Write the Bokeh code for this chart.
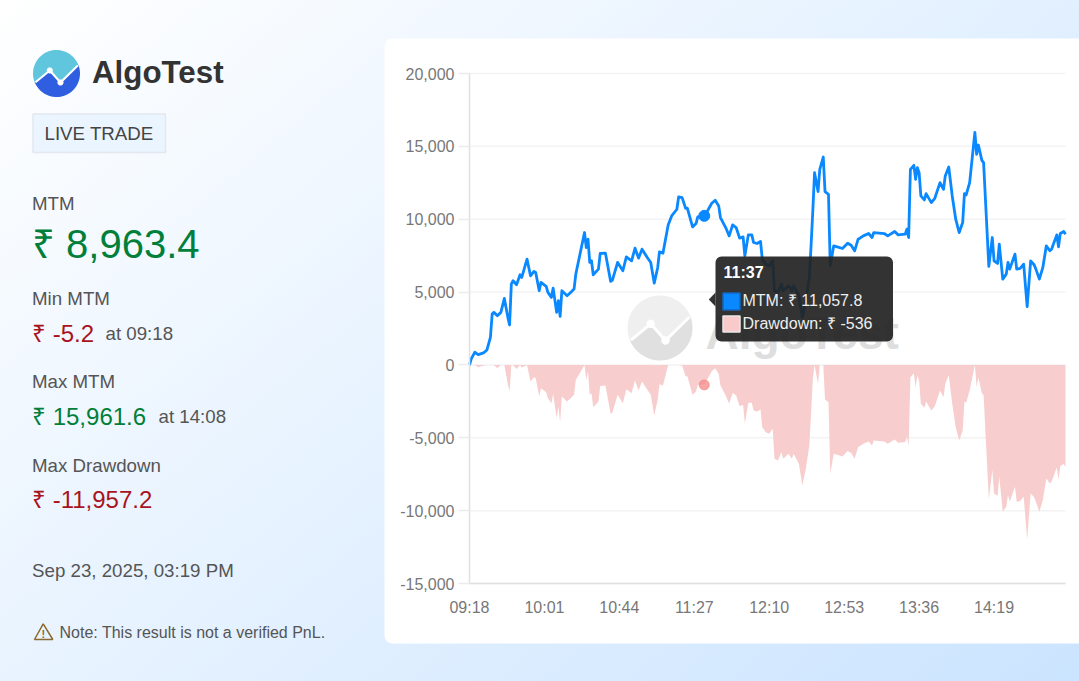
import numpy as np
from bokeh.embed import file_html
from bokeh.models import BoxAnnotation, FixedTicker, Label, LinearAxis, NumeralTickFormatter, PolyAnnotation
from bokeh.plotting import figure
from bokeh.resources import INLINE

# minutes since 09:18
minutes = [0, 1, 3, 5, 8, 10, 12, 13, 14, 16, 18, 20, 22, 23, 24, 25, 27, 29, 30, 33,
           35, 37, 38, 40, 41, 44, 45, 47, 48, 50, 51, 52, 53, 56, 58, 60, 61, 66, 67, 68,
           69, 70, 71, 74, 75, 78, 81, 82, 85, 88, 90, 93, 95, 97, 99, 102, 104, 106, 108, 109,
           111, 114, 116, 119, 120, 122, 124, 125, 128, 130, 131, 135, 139, 141, 143, 144, 147, 149, 151, 153,
           155, 157, 158, 160, 162, 163, 165, 167, 168, 170, 172, 174, 175, 177, 179, 180, 183, 185, 186, 189,
           191, 193, 195, 196, 197, 198, 200, 201, 203, 204, 206, 207, 209, 211, 214, 217, 219, 221, 223, 224,
           226, 229, 231, 232, 238, 240, 244, 246, 250, 251, 252, 253, 255, 256, 257, 258, 259, 261, 262, 265,
           267, 270, 272, 273, 275, 277, 279, 281, 283, 284, 285, 287, 290, 291, 292, 294, 295, 298, 300, 301,
           303, 304, 306, 308, 309, 310, 313, 314, 316, 318, 320, 322, 324, 325, 327, 329, 331, 333, 334, 337,
           338, 339, 341, 342]
mtm = [-5, 411, 868, 708, 822, 1027, 1895, 3493, 3607, 3379, 3607, 4566, 3265, 2740, 5548, 5776, 5502, 6187, 6004, 7260,
       6118, 6415, 6347, 5091, 5662, 5388, 4977, 4634, 5274, 3607, 4406, 3333, 5091, 4749, 4977, 5205, 6233, 9086, 8059, 8630,
       7032, 7146, 6187, 6575, 7648, 7671, 5730, 5822, 7032, 6461, 7420, 7146, 8013, 7328, 7945, 7374, 7032, 5616, 6689, 7762,
       7671, 9611, 10228, 10684, 11529, 11483, 10753, 10753, 9474, 9703, 10159, 10228, 11095, 11300, 10913, 10114, 9429, 8858, 9611, 9429,
       8698, 8790, 7488, 8926, 8926, 8401, 8333, 8470, 7260, 6917, 6803, 7146, 5091, 4977, 5548, 5091, 5434, 5091, 5434, 4749,
       3265, 4406, 6004, 8173, 10570, 13196, 11894, 13424, 14269, 11894, 11712, 6803, 8173, 8105, 7991, 8356, 8219, 7831, 8630, 8698,
       8858, 9018, 8744, 9086, 9018, 8858, 9155, 8926, 8972, 9315, 8744, 13424, 13698, 12739, 13538, 13196, 11598, 11324, 11758, 11141,
       11438, 12511, 12054, 12967, 13584, 11598, 10000, 9086, 9771, 11758, 11666, 12511, 15962, 14451, 15091, 14041, 13881, 6758, 8744, 7146,
       6963, 8287, 5890, 6233, 7032, 6575, 7602, 6575, 6621, 6918, 4004, 7146, 6872, 6575, 5890, 6689, 8173, 7831, 7945, 8926,
       8105, 9018, 9155, 8963]
drawdown = [0, 0, 0, -160, -46, 0, 0, 0, 0, -228, 0, 0, -1301, -1826, 0, 0, -274, 0, -183, 0,
            -1142, -845, -913, -2169, -1598, -1872, -2283, -2626, -1986, -3653, -2854, -3927, -2169, -2511, -2283, -2055, -1027, 0, -1027, -456,
            -2054, -1940, -2899, -2511, -1438, -1415, -3356, -3264, -2054, -2625, -1666, -1940, -1073, -1758, -1141, -1712, -2054, -3470, -2397, -1324,
            -1415, 0, 0, 0, 0, -46, -776, -776, -2055, -1826, -1370, -1301, -434, -229, -616, -1415, -2100, -2671, -1918, -2100,
            -2831, -2739, -4041, -2603, -2603, -3128, -3196, -3059, -4269, -4612, -4726, -4383, -6438, -6552, -5981, -6438, -6095, -6438, -6095, -6780,
            -8264, -7123, -5525, -3356, -959, 0, -1302, 0, 0, -2375, -2557, -7466, -6096, -6164, -6278, -5913, -6050, -6438, -5639, -5571,
            -5411, -5251, -5525, -5183, -5251, -5411, -5114, -5343, -5297, -4954, -5525, -845, -571, -1530, -731, -1073, -2671, -2945, -2511, -3128,
            -2831, -1758, -2215, -1302, -685, -2671, -4269, -5183, -4498, -2511, -2603, -1758, 0, -1510, -870, -1920, -2080, -9203, -7217, -8815,
            -8998, -7674, -10071, -9728, -8929, -9386, -8359, -9386, -9340, -9043, -11957, -8815, -9089, -9386, -10071, -9272, -7788, -8130, -8016, -7035,
            -7856, -6943, -6806, -6998]

tick_minutes = [0, 43, 86, 129, 172, 215, 258, 301]
tick_labels = ["09:18", "10:01", "10:44", "11:27", "12:10", "12:53", "13:36", "14:19"]
y_ticks = [-15000, -10000, -5000, 0, 5000, 10000, 15000, 20000]

hover_minute = [134.7]
hover_mtm = [10230]
hover_drawdown = [-1370]

FONT = "Liberation Sans"
W, H = 1079, 681
LEFT, RIGHT, TOP, BOTTOM = 469, 1065, 73, 583
X0, X1 = 0, 342
Y0, Y1 = -15000, 20000

# the frame fills the whole page so the side panel can live in it
xk = (X1 - X0) / (RIGHT - LEFT)
yk = (Y1 - Y0) / (BOTTOM - TOP)
p = figure(width=W, height=H, output_backend="svg", toolbar_location=None, tools="",
           x_range=(X0 - LEFT * xk, X1 + (W - RIGHT) * xk),
           y_range=(Y0 - (H - BOTTOM) * yk, Y1 + TOP * yk),
           x_axis_location=None, y_axis_location=None, min_border=0,
           border_fill_alpha=0, background_fill_alpha=0, outline_line_color=None,
           styles={"position": "fixed", "left": "0", "top": "0",
                   "background": "linear-gradient(140deg, #ffffff 0%, #cbe4ff 100%)"})
p.grid.visible = False


def sy(y):
    return H - y


def text(x, y, s, size, color, bold=False, align="left", level="overlay"):
    p.add_layout(Label(x=x, y=sy(y), x_units="screen", y_units="screen", text=s,
                       text_font=FONT, text_font_size=f"{size}px", text_color=color,
                       text_font_style="bold" if bold else "normal", text_align=align,
                       text_baseline="middle", level=level))


def box(x0, y0, x1, y1, color, line=None, radius=0, alpha=1.0, level="annotation"):
    p.add_layout(BoxAnnotation(left=x0, right=x1, top=sy(y0), bottom=sy(y1),
                               left_units="screen", right_units="screen", top_units="screen", bottom_units="screen",
                               fill_color=color, fill_alpha=alpha, line_color=line, line_alpha=1,
                               line_width=1.5 if line else 0,
                               border_radius=radius, level=level, editable=False))


def poly(xs, ys, color, line=None, width=0, alpha=1.0, level="annotation"):
    p.add_layout(PolyAnnotation(xs=list(xs), ys=[sy(y) for y in ys],
                                xs_units="screen", ys_units="screen", fill_color=color, fill_alpha=alpha,
                                line_color=line, line_alpha=1, line_width=width, level=level))


def logo(cx, cy, r, top_color, bottom_color, level):
    # zigzag across the disc, ends sit on the rim
    zig = [(-0.894, 0.37), (-0.285, -0.128), (0.17, 0.383), (0.906, -0.34)]
    a0 = np.arctan2(zig[0][1], zig[0][0])
    a1 = np.arctan2(zig[-1][1], zig[-1][0])
    upper = np.linspace(a1, a0 - 2 * np.pi, 40)
    lower = np.linspace(a1, a0, 40)
    zx = [cx + r * z[0] for z in zig]
    zy = [cy + r * z[1] for z in zig]
    poly(zx + list(cx + r * np.cos(upper)), zy + list(cy + r * np.sin(upper)), top_color, level=level)
    poly(zx + list(cx + r * np.cos(lower)), zy + list(cy + r * np.sin(lower)), bottom_color, level=level)
    w = r * 0.045
    for i in range(3):
        dx, dy = zx[i + 1] - zx[i], zy[i + 1] - zy[i]
        n = np.hypot(dx, dy)
        ox, oy = -dy / n * w, dx / n * w
        poly([zx[i] + ox, zx[i + 1] + ox, zx[i + 1] - ox, zx[i] - ox],
             [zy[i] + oy, zy[i + 1] + oy, zy[i + 1] - oy, zy[i] - oy], "#ffffff", level=level)
    t = np.linspace(0, 2 * np.pi, 24)
    for i in (1, 2):
        poly(zx[i] + r * 0.13 * np.cos(t), zy[i] + r * 0.13 * np.sin(t), "#ffffff", level=level)


# white card behind the chart
box(384, 38, W, 643, "#ffffff", radius=(8, 0, 0, 8), level="image")

# watermark
logo(659.5, 327.5, 32.5, "#efefef", "#e0e0e0", "image")
text(705, 332, "AlgoTest", 46, "#dedede", bold=True, level="image")

# a Grid would run across the whole frame, so keep the rules inside the plot area
p.segment([X0] * len(y_ticks), y_ticks, [X1] * len(y_ticks), y_ticks,
          line_color="#f3f3f3", line_width=1.5, level="underlay")

p.varea(minutes, 0, drawdown, fill_color="#f8caca", fill_alpha=0.95)
p.line(minutes, mtm, line_color="#0a88ff", line_width=2.8, line_join="round")
p.scatter(hover_minute, hover_mtm, size=11, color="#0a88ff")
p.scatter(hover_minute, hover_drawdown, size=10, color="#f58f8f", alpha=0.8)

xaxis = LinearAxis(fixed_location=Y0, bounds=(X0, X1), ticker=FixedTicker(ticks=tick_minutes),
                   major_label_overrides=dict(zip(tick_minutes, tick_labels)), major_label_standoff=9)
yaxis = LinearAxis(fixed_location=X0, bounds=(Y0, Y1), ticker=FixedTicker(ticks=y_ticks),
                   formatter=NumeralTickFormatter(format="0,0"), major_label_standoff=4)
for ax in (xaxis, yaxis):
    ax.major_label_text_font = FONT
    ax.major_label_text_font_size = "16px"
    ax.major_label_text_color = "#777777"
    ax.axis_line_color = "#e0e0e0"
    ax.axis_line_width = 1.5
    ax.major_tick_line_color = None
    ax.minor_tick_line_color = None
# the value axis has short pale ticks that look like the rules carrying on
yaxis.major_tick_line_color = "#ececec"
yaxis.major_tick_line_width = 1.5
yaxis.major_tick_in = 0
yaxis.major_tick_out = 11
p.add_layout(xaxis, "below")
p.add_layout(yaxis, "left")

# left panel
logo(56, 73, 23.5, "#5fc6de", "#2f5fe0", "annotation")
text(91.5, 71.5, "AlgoTest", 31.3, "#333333", bold=True)
box(32.5, 113.5, 165, 152, "#ebf5ff", line="#e2e8ef")
text(44, 133, "LIVE TRADE", 18.72, "#444444")
text(31.5, 203, "MTM", 18.72, "#555555")
text(31.5, 243, "₹ 8,963.4", 40, "#007f3a")
text(31.5, 298, "Min MTM", 18.72, "#555555")
text(31.5, 333, "₹ -5.2", 24, "#a8141e")
text(105, 333, "at 09:18", 18.72, "#555555")
text(31.5, 381, "Max MTM", 18.72, "#555555")
text(31.5, 416, "₹ 15,961.6", 24, "#007f3a")
text(158, 416, "at 14:08", 18.72, "#555555")
text(31.5, 465, "Max Drawdown", 18.72, "#555555")
text(31.5, 499, "₹ -11,957.2", 24, "#a8141e")
text(31.5, 570, "Sep 23, 2025, 03:19 PM", 18.72, "#555555")
poly([42.7, 52.3, 34], [623.3, 639, 639], "#ffffff", line="#8a6a30", width=1.5, alpha=0)
text(42.9, 633, "!", 11, "#8a6a30", bold=True, align="center")
text(59, 632, "Note: This result is not a verified PnL.", 16, "#555555")

# frozen tooltip
box(715, 256, 892.5, 341, "#222222", radius=6, alpha=0.92, level="overlay")
poly([708.3, 715, 715], [299, 292, 306], "#222222", alpha=0.92, level="overlay")
box(722.5, 292.5, 739.5, 309.5, "#0a88ff", line="#1565c0", level="overlay")
box(722.5, 315.5, 739.5, 331.5, "#f8caca", line="#e8e8e8", level="overlay")
text(723, 272, "11:37", 16, "#ffffff", bold=True)
text(742, 300, "MTM: ₹ 11,057.8", 16, "#eeeeee")
text(742, 322.5, "Drawdown: ₹ -536", 16, "#eeeeee")

open("out.html", "w").write(file_html(p, INLINE))
